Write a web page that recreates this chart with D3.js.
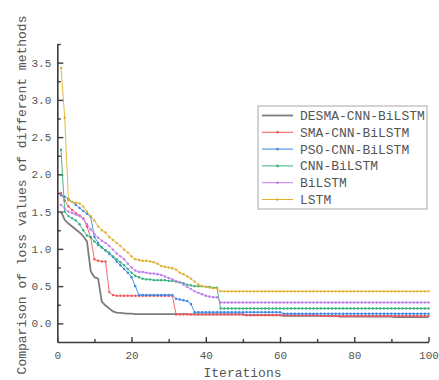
<!DOCTYPE html>
<html>
<head>
<meta charset="utf-8">
<script src="https://cdn.jsdelivr.net/npm/d3@7"></script>
<style>
  body { margin: 0; background: #fff; }
  text { font-family: "Liberation Mono", monospace; fill: #555; }
</style>
</head>
<body>
<svg id="chart" width="439" height="380"></svg>
<script>
// iterations 1..100
var iterations = d3.range(1, 101);

var seriesNames = ["DESMA-CNN-BiLSTM", "SMA-CNN-BiLSTM", "PSO-CNN-BiLSTM", "CNN-BiLSTM", "BiLSTM", "LSTM"];
var seriesColors = ["#7d7d7d", "#f2565c", "#3b87e6", "#34b378", "#c07cf0", "#e2b031"];

var desma = [
  1.50,1.39,1.34,1.30,1.26,1.22,1.17,1.10,0.70,0.62,
  0.60,0.29,0.24,0.20,0.16,0.145,0.14,0.135,0.13,0.13,
  0.125,0.125,0.125,0.125,0.125,0.125,0.125,0.125,0.125,0.125,
  0.125,0.125,0.125,0.125,0.125,0.12,0.12,0.12,0.12,0.12,
  0.12,0.12,0.12,0.12,0.12,0.12,0.12,0.12,0.12,0.12,
  0.11,0.11,0.11,0.11,0.11,0.11,0.11,0.11,0.11,0.11,
  0.10,0.10,0.10,0.10,0.10,0.10,0.10,0.10,0.10,0.10,
  0.10,0.10,0.10,0.10,0.10,0.09,0.09,0.09,0.09,0.09,
  0.09,0.09,0.09,0.09,0.09,0.09,0.09,0.09,0.09,0.09,
  0.085,0.085,0.085,0.085,0.085,0.085,0.085,0.085,0.085,0.085
];
var sma = [
  1.75,1.65,1.57,1.52,1.48,1.45,1.41,1.30,1.15,0.86,
  0.84,0.83,0.83,0.42,0.38,0.37,0.37,0.37,0.37,0.37,
  0.37,0.37,0.37,0.37,0.37,0.37,0.37,0.37,0.37,0.37,
  0.37,0.12,0.12,0.12,0.12,0.12,0.12,0.12,0.12,0.12,
  0.12,0.12,0.12,0.12,0.12,0.12,0.12,0.12,0.12,0.12,
  0.11,0.11,0.11,0.11,0.11,0.11,0.11,0.11,0.11,0.11,
  0.11,0.11,0.11,0.11,0.11,0.11,0.11,0.11,0.11,0.11,
  0.10,0.10,0.10,0.10,0.10,0.10,0.10,0.10,0.10,0.10,
  0.10,0.10,0.10,0.10,0.10,0.10,0.10,0.10,0.10,0.10,
  0.10,0.10,0.10,0.10,0.10,0.10,0.10,0.10,0.10,0.10
];
var pso = [
  1.72,1.70,1.67,1.63,1.59,1.55,1.51,1.47,1.43,1.16,
  1.08,1.02,0.98,0.93,0.89,0.83,0.78,0.73,0.68,0.62,
  0.50,0.38,0.38,0.38,0.38,0.38,0.38,0.38,0.38,0.38,
  0.38,0.33,0.32,0.31,0.30,0.26,0.15,0.15,0.15,0.15,
  0.15,0.15,0.15,0.15,0.15,0.15,0.15,0.15,0.15,0.15,
  0.15,0.15,0.15,0.15,0.15,0.15,0.15,0.15,0.15,0.15,
  0.13,0.13,0.13,0.13,0.13,0.13,0.13,0.13,0.13,0.13,
  0.13,0.13,0.13,0.13,0.13,0.13,0.13,0.13,0.13,0.13,
  0.13,0.13,0.13,0.13,0.13,0.13,0.13,0.13,0.13,0.13,
  0.13,0.13,0.13,0.13,0.13,0.13,0.13,0.13,0.13,0.13
];
var cnnBilstm = [
  2.33,1.50,1.44,1.41,1.38,1.33,1.25,1.18,1.16,1.10,
  1.05,1.02,0.98,0.95,0.90,0.86,0.82,0.78,0.73,0.68,
  0.64,0.62,0.60,0.59,0.59,0.58,0.58,0.58,0.58,0.57,
  0.57,0.56,0.55,0.54,0.52,0.51,0.50,0.50,0.50,0.49,
  0.49,0.48,0.48,0.20,0.20,0.20,0.20,0.20,0.20,0.20,
  0.20,0.20,0.20,0.20,0.20,0.20,0.20,0.20,0.20,0.20,
  0.20,0.20,0.20,0.20,0.20,0.20,0.20,0.20,0.20,0.20,
  0.20,0.20,0.20,0.20,0.20,0.20,0.20,0.20,0.20,0.20,
  0.20,0.20,0.20,0.20,0.20,0.20,0.20,0.20,0.20,0.20,
  0.20,0.20,0.20,0.20,0.20,0.20,0.20,0.20,0.20,0.20
];
var bilstm = [
  1.59,1.54,1.50,1.48,1.46,1.44,1.40,1.33,1.26,1.20,
  1.15,1.11,1.08,1.04,0.99,0.94,0.90,0.86,0.80,0.75,
  0.71,0.69,0.69,0.68,0.67,0.67,0.66,0.65,0.63,0.61,
  0.59,0.57,0.55,0.52,0.49,0.46,0.43,0.41,0.39,0.37,
  0.36,0.35,0.35,0.28,0.28,0.28,0.28,0.28,0.28,0.28,
  0.28,0.28,0.28,0.28,0.28,0.28,0.28,0.28,0.28,0.28,
  0.28,0.28,0.28,0.28,0.28,0.28,0.28,0.28,0.28,0.28,
  0.28,0.28,0.28,0.28,0.28,0.28,0.28,0.28,0.28,0.28,
  0.28,0.28,0.28,0.28,0.28,0.28,0.28,0.28,0.28,0.28,
  0.28,0.28,0.28,0.28,0.28,0.28,0.28,0.28,0.28,0.28
];
var lstm = [
  3.43,2.76,1.65,1.63,1.62,1.61,1.57,1.50,1.44,1.38,
  1.30,1.25,1.22,1.16,1.12,1.08,1.04,0.99,0.95,0.90,
  0.86,0.85,0.84,0.84,0.83,0.82,0.80,0.77,0.76,0.75,
  0.74,0.72,0.68,0.66,0.63,0.60,0.56,0.52,0.50,0.49,
  0.48,0.47,0.47,0.43,0.43,0.43,0.43,0.43,0.43,0.43,
  0.43,0.43,0.43,0.43,0.43,0.43,0.43,0.43,0.43,0.43,
  0.43,0.43,0.43,0.43,0.43,0.43,0.43,0.43,0.43,0.43,
  0.43,0.43,0.43,0.43,0.43,0.43,0.43,0.43,0.43,0.43,
  0.43,0.43,0.43,0.43,0.43,0.43,0.43,0.43,0.43,0.43,
  0.43,0.43,0.43,0.43,0.43,0.43,0.43,0.43,0.43,0.43
];
var seriesValues = [desma, sma, pso, cnnBilstm, bilstm, lstm];

var xMajor = [0, 20, 40, 60, 80, 100];
var xMinor = [10, 30, 50, 70, 90];
var yMajor = [0, 0.5, 1.0, 1.5, 2.0, 2.5, 3.0, 3.5];
var yMinor = [0.25, 0.75, 1.25, 1.75, 2.25, 2.75, 3.25, 3.75];

var svg = d3.select("#chart");

var x = d3.scaleLinear().domain([0, 100]).range([57.3, 428.5]);
var y = d3.scaleLinear().domain([-0.25, 3.75]).range([342, 44]);

// axes (ticks point inward)
var gx = svg.append("g").attr("transform", "translate(0,342)");
gx.call(d3.axisBottom(x).tickValues(xMajor).tickSize(-5).tickSizeOuter(0).tickPadding(9).tickFormat(d3.format("d")));
var gxm = svg.append("g").attr("transform", "translate(0,342)");
gxm.call(d3.axisBottom(x).tickValues(xMinor).tickSize(-3).tickSizeOuter(0).tickFormat(""));
gxm.select(".domain").remove();

var gy = svg.append("g").attr("transform", "translate(57.3,0)");
gy.call(d3.axisLeft(y).tickValues(yMajor).tickSize(-6).tickSizeOuter(0).tickPadding(6).tickFormat(d3.format(".1f")));
var gym = svg.append("g").attr("transform", "translate(57.3,0)");
gym.call(d3.axisLeft(y).tickValues(yMinor).tickSize(-3.5).tickSizeOuter(0).tickFormat(""));
gym.select(".domain").remove();

svg.selectAll(".domain").attr("stroke", "#3a3a3a").attr("stroke-width", 1.6);
svg.selectAll(".tick line").attr("stroke", "#3a3a3a").attr("stroke-width", 1.4);
svg.selectAll(".tick text")
  .style("font-family", "Liberation Mono, monospace")
  .attr("font-size", 11).attr("fill", "#555");

// lines
var line = d3.line().x(function(d, i) { return x(iterations[i]); }).y(function(d) { return y(d); });

for (var s = 0; s < seriesValues.length; s++) {
  var vals = seriesValues[s];
  svg.append("path")
    .attr("d", line(vals))
    .attr("fill", "none")
    .attr("stroke", seriesColors[s])
    .attr("stroke-width", s == 0 ? 1.8 : 1)
    .attr("stroke-opacity", s == 0 ? 1 : 0.9);
  if (s > 0) {
    svg.append("g").selectAll("circle").data(vals).enter().append("circle")
      .attr("cx", function(d, i) { return x(iterations[i]); })
      .attr("cy", function(d) { return y(d); })
      .attr("r", 1.2)
      .attr("fill", seriesColors[s]);
  }
}

// axis titles
svg.append("text")
  .attr("x", 242.5).attr("y", 377)
  .attr("text-anchor", "middle")
  .attr("font-size", 13)
  .text("Iterations");

svg.append("text")
  .attr("transform", "translate(26,195) rotate(-90)")
  .attr("text-anchor", "middle")
  .attr("font-size", 13)
  .text("Comparison of loss values of different methods");

// legend
var lg = svg.append("g");
lg.append("rect")
  .attr("x", 258).attr("y", 106).attr("width", 169).attr("height", 103)
  .attr("fill", "#fff").attr("stroke", "#a8a8a8").attr("stroke-width", 1);
for (var k = 0; k < seriesNames.length; k++) {
  var ly = 115.5 + k * 16.8;
  lg.append("line")
    .attr("x1", 262).attr("x2", 293).attr("y1", ly).attr("y2", ly)
    .attr("stroke", seriesColors[k]).attr("stroke-width", k == 0 ? 1.8 : 1);
  if (k > 0) {
    lg.append("circle").attr("cx", 277.5).attr("cy", ly).attr("r", 1.3).attr("fill", seriesColors[k]);
  }
  lg.append("text")
    .attr("x", 300).attr("y", ly + 4.5)
    .attr("font-size", 13)
    .text(seriesNames[k]);
}
</script>
</body>
</html>
